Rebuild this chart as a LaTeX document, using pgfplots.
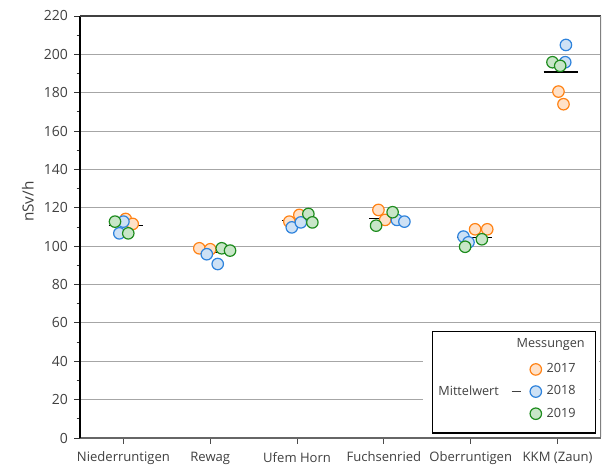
\documentclass[border=0pt]{standalone}
\usepackage{pgfplots}
\pgfplotsset{compat=1.18}
\usepackage{fontspec}
\setmainfont{Open Sans}
\definecolor{c17}{RGB}{255,130,20}
\definecolor{f17}{RGB}{255,225,200}
\definecolor{c18}{RGB}{45,130,220}
\definecolor{f18}{RGB}{205,225,245}
\definecolor{c19}{RGB}{30,140,30}
\definecolor{f19}{RGB}{200,230,200}
\definecolor{txt}{RGB}{64,64,64}
\begin{document}
\begin{tikzpicture}
\useasboundingbox (-60pt,-24pt) rectangle (394.5pt,328.5pt);
\begin{axis}[
  scale only axis, width=390.75pt, height=316.5pt,
  xmin=-0.5, xmax=5.5, ymin=0, ymax=220,
  xtick={0,1,2,3,4,5},
  xticklabels={Niederruntigen,Rewag,Ufem Horn,Fuchsenried,Oberruntigen,KKM (Zaun)},
  ytick={0,20,...,220}, minor ytick={10,30,...,210},
  axis x line*=bottom, axis y line*=left,
  x axis line style={draw=black!60, line width=0.8pt},
  y axis line style={draw=black, line width=0.8pt},
  tick align=outside,
  ytick style={draw=black!80, line width=0.7pt},
  xtick style={draw=black!70, line width=0.7pt},
  major tick length=4.5pt, minor tick length=2.5pt,
  ymajorgrids, grid style={draw=black!35, line width=0.8pt},
  /pgf/number format/assume math mode=true,
  xticklabel style={font=\fontsize{9.8}{11}\selectfont, text=txt, yshift=-2.5pt},
  yticklabel style={font=\fontsize{10.5}{12}\selectfont, text=txt, xshift=-1pt},
  ylabel={nSv/h},
  ylabel style={font=\fontsize{11.5}{13}\selectfont, text=txt, at={(axis description cs:-0.10,0.56)}, anchor=center, rotate=0},
  legend cell align=left,
  legend image code/.code={\draw[#1] plot coordinates {(0pt,0pt)};},
  legend style={draw=none, fill=none, at={(axis cs:4.68,24.2)}, anchor=west,
    row sep=5.6pt, inner xsep=0pt, inner ysep=0pt,
    font=\fontsize{9.5}{11}\selectfont, text=txt,
    nodes={inner sep=1pt, text height=7pt, text depth=2pt},
    /tikz/every odd column/.append style={column sep=2.8pt}},
]
\addplot[only marks, mark=*, mark size=4.3pt, mark options={draw=c17, fill=f17, line width=0.9pt}]
coordinates {(0.026,114.2) (0.107,111.6) (0.874,98.9) (1.0,98.4) (1.911,112.8) (2.026,116.3)
 (2.937,118.9) (3.014,113.7) (4.05,108.8) (4.19,108.8) (5.01,180.6) (5.068,174.0)};
\addlegendentry{2017}
\addplot[only marks, mark=*, mark size=4.3pt, mark options={draw=c18, fill=f18, line width=0.9pt}]
coordinates {(0.0,112.8) (-0.047,106.7) (0.96,95.8) (1.086,90.7) (1.939,109.8) (2.043,112.4)
 (3.149,113.7) (3.236,112.8) (3.916,105.0) (3.974,102.0) (5.096,204.9) (5.088,195.9)};
\addlegendentry{2018}
\addplot[only marks, mark=*, mark size=4.3pt, mark options={draw=c19, fill=f19, line width=0.9pt}]
coordinates {(-0.097,112.8) (0.056,106.7) (1.132,98.9) (1.228,97.7) (2.13,116.8) (2.176,112.4)
 (2.91,110.7) (3.10,117.7) (3.935,99.7) (4.128,103.6) (4.941,195.9) (5.03,194.0)};
\addlegendentry{2019}
\addplot[black, line width=1pt, unbounded coords=jump, forget plot]
coordinates {(-0.17,110.9) (0.23,110.9) (0.5,nan) (0.83,96.6) (1.23,96.6) (1.5,nan)
 (1.83,113.3) (2.23,113.3) (2.5,nan) (2.83,114.5) (3.23,114.5) (3.5,nan)
 (3.84,104.4) (4.24,104.4) (4.5,nan) (4.84,190.8) (5.24,190.8)};
\draw[black!75, line width=0.9pt] (rel axis cs:0,1) -- (rel axis cs:1,1);
\draw[black!50, line width=0.9pt] (rel axis cs:1,0.003) -- (rel axis cs:1,1);
\fill[white] (axis cs:3.452,0.4) rectangle (axis cs:5.48,57.6);
\draw[black, line width=0.8pt] (axis cs:3.563,2.6) rectangle (axis cs:5.441,55.4);
\node[font=\fontsize{9.5}{11}\selectfont, text=txt] at (axis cs:4.92,49.0) {Messungen};
\node[font=\fontsize{9.5}{11}\selectfont, text=txt, anchor=west, inner sep=0pt] at (axis cs:3.624,24.5) {Mittelwert\hspace{9.5pt}\raisebox{2.6pt}{\rule{6.75pt}{1.3pt}}};
\end{axis}
\end{tikzpicture}
\end{document}
